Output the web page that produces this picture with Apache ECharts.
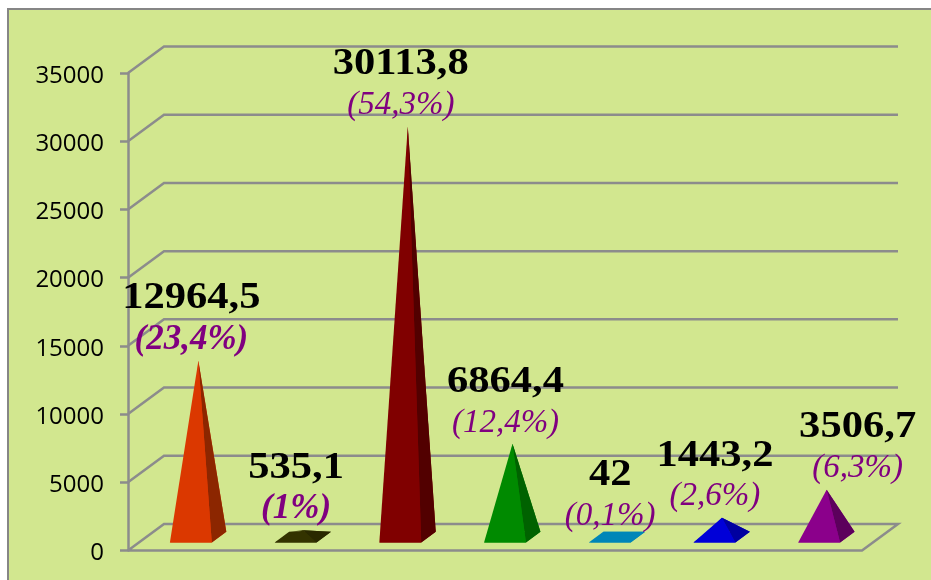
<!DOCTYPE html>
<html>
<head>
<meta charset="utf-8" />
<title>Pyramids</title>
<script src="https://cdn.jsdelivr.net/npm/echarts@6/dist/echarts.min.js"></script>
<style>
    html, body { margin:0; padding:0; background:#fff; }
    #chartmain { width:931px; height:580px; }
</style>
</head>
<body>
<div id="chartmain"></div>
<script type="text/javascript">
    var categories = ['1', '2', '3', '4', '5', '6', '7'];
    var values = [12964.5, 535.1, 30113.8, 6864.4, 42, 1443.2, 3506.7];
    var percents = ['23,4', '1', '54,3', '12,4', '0,1', '2,6', '6,3'];
    var ticks = [0, 5000, 10000, 15000, 20000, 25000, 30000, 35000];
    var frontColors = ['#DB3800', '#333300', '#800000', '#008A00', '#0086B8', '#0000D8', '#8B008B'];
    var sideColors = ['#8C2600', '#292900', '#520000', '#006200', '#0086B8', '#0000A0', '#5C005C'];

    var BG = '#D2E78F';
    var GRIDLINE = '#8C8C8C';
    var DEPTH_X = 36, DEPTH_Y = 26.5;

    function wallItem(params, api) {
        var c = params.coordSys;
        var y = api.coord([0, api.value(1)])[1];
        var right = c.x + c.width + 1;
        var pts = [[c.x, y], [c.x + DEPTH_X, y - DEPTH_Y], [right + DEPTH_X, y - DEPTH_Y]];
        // the floor gets its front and right edges too
        if (api.value(1) === 0) {
            pts.push([right, y], [c.x, y]);
        }
        return {
            type: 'polyline',
            shape: { points: pts },
            style: { fill: null, stroke: GRIDLINE, lineWidth: 2.5 }
        };
    }

    function pyramidItem(params, api) {
        var i = params.dataIndex;
        var base = api.coord([api.value(0), 0]);
        var top = api.coord([api.value(0), api.value(1)]);
        var half = api.size([1, 0])[0] * 0.2;
        var fl = [base[0] + 10.5 - half, base[1] - 8];
        var fr = [base[0] + 10.5 + half, base[1] - 8];
        var br = [base[0] + 25 + half, base[1] - 18.8];
        var bl = [base[0] + 25 - half, base[1] - 18.8];
        var apex = [top[0] + 18, top[1] - 13];
        function face(points, color) {
            return { type: 'polygon', shape: { points: points }, style: { fill: color } };
        }
        return {
            type: 'group',
            children: [
                face([fl, fr, br, bl], frontColors[i]),
                face([bl, br, apex], frontColors[i]),
                face([fr, br, apex], sideColors[i]),
                face([fl, fr, apex], frontColors[i])
            ]
        };
    }

    function labelItem(params, api) {
        var i = params.dataIndex;
        var top = api.coord([api.value(0), api.value(1)]);
        var apexY = top[1] - 13;
        // last label was pushed to the right in the original
        var x = top[0] + 11 + (i === 6 ? 38 : 0);
        var boldPct = i < 2;
        return {
            type: 'group',
            children: [{
                type: 'text',
                x: x,
                y: apexY - 62,
                scaleX: 1.12,
                style: {
                    text: String(api.value(1)).replace('.', ','),
                    font: 'bold 38px "Liberation Serif"',
                    fill: '#000',
                    align: 'center',
                    verticalAlign: 'middle'
                }
            }, {
                type: 'text',
                x: x,
                y: apexY - 21,
                style: {
                    text: '(' + percents[i] + '%)',
                    font: (boldPct ? 'italic bold 35px' : 'italic 33px') + ' "Liberation Serif"',
                    fill: '#800080',
                    align: 'center',
                    verticalAlign: 'middle'
                }
            }]
        };
    }

    var myChart = echarts.init(document.getElementById('chartmain'), null, { renderer: 'canvas' });
    var points = values.map(function (v, i) { return [i, v]; });

    var option = {
        backgroundColor: '#fff',
        animation: false,
        graphic: [{
            type: 'rect',
            z: -10,
            shape: { x: 8, y: 9, width: 1000, height: 1000 },
            style: { fill: BG, stroke: '#868686', lineWidth: 2 }
        }],
        grid: { left: 128, right: 70, top: 73, bottom: 29.5 },
        xAxis: {
            type: 'category',
            data: categories,
            axisLine: { show: false },
            axisTick: { show: false },
            axisLabel: { show: false }
        },
        yAxis: {
            type: 'value',
            min: 0,
            max: 35000,
            interval: 5000,
            splitLine: { show: false },
            axisLine: { show: true, lineStyle: { color: GRIDLINE, width: 2.5 } },
            axisTick: { show: true, length: 8, lineStyle: { color: GRIDLINE, width: 2.5 } },
            axisLabel: {
                color: '#000',
                fontFamily: 'Open Sans',
                fontSize: 24,
                margin: 24,
                verticalAlign: 'top',
                lineHeight: 6,
                formatter: function (v) { return String(v); }
            }
        },
        series: [{
            type: 'custom',
            z: 1,
            silent: true,
            clip: false,
            renderItem: wallItem,
            data: ticks.map(function (t) { return [0, t]; })
        }, {
            type: 'custom',
            z: 2,
            silent: true,
            clip: false,
            renderItem: pyramidItem,
            data: points
        }, {
            type: 'custom',
            z: 3,
            silent: true,
            clip: false,
            renderItem: labelItem,
            data: points
        }]
    };
    myChart.setOption(option);
</script>
</body>
</html>
